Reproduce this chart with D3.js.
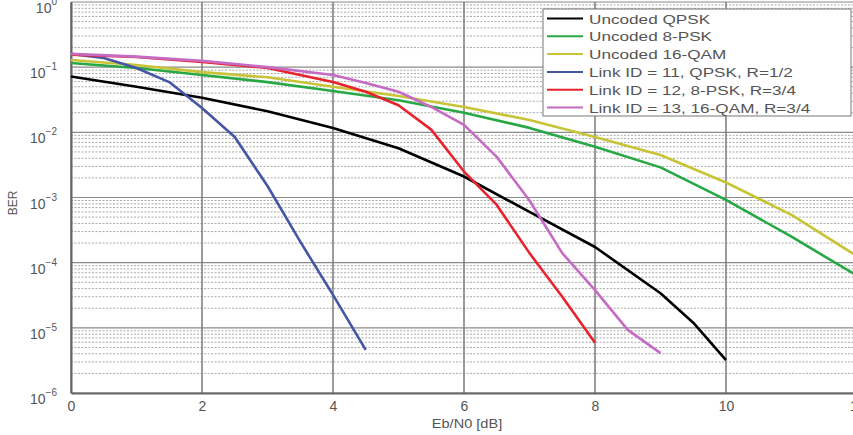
<!DOCTYPE html>
<html>
<head>
<meta charset="utf-8">
<script src="https://cdn.jsdelivr.net/npm/d3@7"></script>
<style>
body { margin: 0; background: #fff; }
svg { font-family: "Liberation Sans", Arial, sans-serif; }
</style>
</head>
<body>
<div id="chart"></div>
<script>
var width = 853,
    height = 435;

// Eb/N0 sample points and BER values
var ebnoQpsk = [0, 1, 2, 3, 4, 5, 6, 7, 8, 9, 9.5, 10];
var berQpsk = [0.072, 0.05, 0.034, 0.021, 0.0117, 0.0057, 0.0021, 0.0006, 0.000174, 3.4e-5, 1.2e-5, 3.2e-6];

var ebnoUncoded = [0, 1, 2, 3, 4, 5, 6, 7, 8, 9, 10, 11, 12];
var ber8psk = [0.116, 0.097, 0.076, 0.059, 0.043, 0.031, 0.02, 0.0117, 0.006, 0.0029, 0.00092, 0.00025, 6.3e-5];
var ber16qam = [0.129, 0.108, 0.084, 0.07, 0.05, 0.036, 0.0245, 0.0155, 0.0085, 0.0045, 0.0017, 0.00054, 0.000126];

var ebnoLink11 = [0, 0.5, 1, 1.5, 2, 2.5, 3, 3.5, 4, 4.5];
var berLink11 = [0.16, 0.138, 0.097, 0.059, 0.0237, 0.0085, 0.0015, 0.00021, 3.2e-5, 4.6e-6];

var ebnoLink12 = [0, 1, 2, 3, 4, 4.5, 5, 5.5, 6, 6.5, 7, 7.5, 8];
var berLink12 = [0.155, 0.143, 0.12, 0.097, 0.059, 0.042, 0.026, 0.011, 0.0025, 0.00077, 0.00014, 3e-5, 5.9e-6];

var ebnoLink13 = [0, 1, 2, 3, 4, 4.5, 5, 5.5, 6, 6.5, 7, 7.5, 8, 8.5, 9];
var berLink13 = [0.16, 0.145, 0.125, 0.1, 0.076, 0.057, 0.042, 0.0245, 0.013, 0.0042, 0.0009, 0.00014, 3.8e-5, 9.3e-6, 4.1e-6];

var seriesNames = ["Uncoded QPSK", "Uncoded 8-PSK", "Uncoded 16-QAM",
    "Link ID = 11, QPSK, R=1/2", "Link ID = 12, 8-PSK, R=3/4", "Link ID = 13, 16-QAM, R=3/4"];
var seriesColors = ["#000000", "#27a845", "#c9c437", "#4456a6", "#e8232d", "#c56bc4"];

var xTicks = [0, 2, 4, 6, 8, 10, 12];
var yExps = [0, -1, -2, -3, -4, -5, -6];

var series = [
    {x: ebnoQpsk, y: berQpsk},
    {x: ebnoUncoded, y: ber8psk},
    {x: ebnoUncoded, y: ber16qam},
    {x: ebnoLink11, y: berLink11},
    {x: ebnoLink12, y: berLink12},
    {x: ebnoLink13, y: berLink13}
];

var plotLeft = 71, plotRight = 857, plotTop = 2, plotBottom = 393;

var x = d3.scaleLinear().domain([0, 12]).range([plotLeft, plotRight]);
var y = d3.scaleLog().domain([1e-6, 1]).range([plotBottom, plotTop]);

var svg = d3.select("#chart").append("svg")
    .attr("width", width)
    .attr("height", height);

// minor horizontal grid
var minor = [];
for (var e = -6; e < 0; e++) {
    for (var m = 2; m <= 9; m++) minor.push(m * Math.pow(10, e));
}
svg.append("g").selectAll("line")
    .data(minor)
    .enter().append("line")
    .attr("x1", plotLeft).attr("x2", plotRight)
    .attr("y1", function(d) { return y(d); })
    .attr("y2", function(d) { return y(d); })
    .attr("stroke", "#a8a8a8")
    .attr("stroke-width", 1)
    .attr("stroke-dasharray", "2,1.5");

// major grid
svg.append("g").selectAll("line")
    .data(yExps)
    .enter().append("line")
    .attr("x1", plotLeft).attr("x2", plotRight)
    .attr("y1", function(d) { return y(Math.pow(10, d)); })
    .attr("y2", function(d) { return y(Math.pow(10, d)); })
    .attr("stroke", "#8a8a8a")
    .attr("stroke-width", 1.2);

svg.append("g").selectAll("line")
    .data(xTicks)
    .enter().append("line")
    .attr("x1", function(d) { return x(d); })
    .attr("x2", function(d) { return x(d); })
    .attr("y1", plotTop).attr("y2", plotBottom)
    .attr("stroke", "#7a7a7a")
    .attr("stroke-width", 1.5);

// axes
var xAxis = svg.append("g")
    .attr("transform", "translate(0," + plotBottom + ")")
    .call(d3.axisBottom(x).tickValues(xTicks).tickSize(0).tickPadding(8));
xAxis.select(".domain").attr("stroke", "#666").attr("stroke-width", 2);
xAxis.selectAll("text").attr("fill", "#555").attr("font-size", 14);

var yAxis = svg.append("g")
    .attr("transform", "translate(" + plotLeft + ",0)")
    .call(d3.axisLeft(y).tickValues(yExps.map(function(d) { return Math.pow(10, d); })).tickSize(0).tickFormat(""));
yAxis.select(".domain").attr("stroke", "#666").attr("stroke-width", 2);

var yLab = svg.append("g").selectAll("text")
    .data(yExps)
    .enter().append("text")
    .attr("x", 57)
    .attr("y", function(d) { return y(Math.pow(10, d)) + 11; })
    .attr("text-anchor", "end")
    .attr("fill", "#555")
    .attr("font-size", 14);
yLab.append("tspan").text("10");
yLab.append("tspan")
    .attr("dy", -8)
    .attr("font-size", 10)
    .text(function(d) { return d === 0 ? "0" : "\u2212" + (-d); });

svg.append("text")
    .attr("transform", "translate(467,428) scale(1.12,1)")
    .attr("text-anchor", "middle")
    .attr("fill", "#555")
    .attr("font-size", 13)
    .text("Eb/N0 [dB]");

svg.append("text")
    .attr("transform", "translate(17,203) rotate(-90)")
    .attr("text-anchor", "middle")
    .attr("fill", "#555")
    .attr("font-size", 12)
    .text("BER");

// curves
var line = d3.line()
    .x(function(d) { return x(d[0]); })
    .y(function(d) { return y(d[1]); });

svg.append("g").selectAll("path")
    .data(series)
    .enter().append("path")
    .attr("d", function(s) { return line(s.x.map(function(v, i) { return [v, s.y[i]]; })); })
    .attr("fill", "none")
    .attr("stroke", function(s, i) { return seriesColors[i]; })
    .attr("stroke-width", 2.6)
    .attr("stroke-linejoin", "round");

// legend
var legend = svg.append("g");
legend.append("rect")
    .attr("x", 543).attr("y", 9)
    .attr("width", 308).attr("height", 107)
    .attr("fill", "#fff")
    .attr("stroke", "#777")
    .attr("stroke-width", 1);

var items = legend.selectAll("g.item")
    .data(seriesNames)
    .enter().append("g")
    .attr("class", "item")
    .attr("transform", function(d, i) { return "translate(0," + (18.5 + i * 17.8) + ")"; });
items.append("line")
    .attr("x1", 547).attr("x2", 583)
    .attr("stroke", function(d, i) { return seriesColors[i]; })
    .attr("stroke-width", 2);
items.append("text")
    .attr("transform", "translate(589,5) scale(1.32,1)")
    .attr("fill", "#555")
    .attr("font-size", 13)
    .text(function(d) { return d; });
</script>
</body>
</html>
